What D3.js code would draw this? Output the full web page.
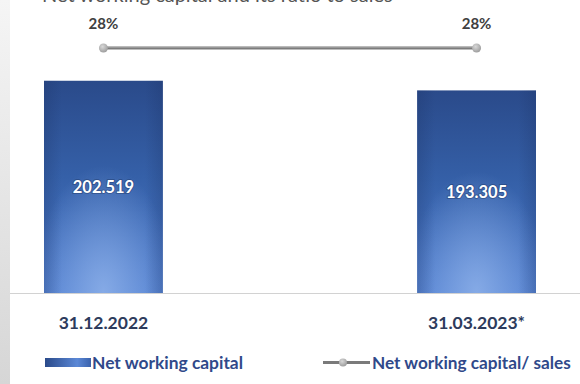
<!DOCTYPE html>
<html>
<head>
<meta charset="utf-8">
<script src="https://cdn.jsdelivr.net/npm/d3@7/dist/d3.min.js"></script>
<style>
  html, body { margin: 0; padding: 0; background: #ffffff; }
  svg { display: block; }
</style>
</head>
<body>
<svg id="chart" width="580" height="384"></svg>
<script>
// Net working capital (bars) and net working capital / sales (line)
const categories = ["31.12.2022", "31.03.2023*"];
const capitalValues = [202.519, 193.305];
const capitalLabels = ["202.519", "193.305"];
const ratioValues = [0.28, 0.28];
const ratioLabels = ["28%", "28%"];
const legendLabels = ["Net working capital", "Net working capital/ sales"];
const titleText = "Net working capital and its ratio to sales";

const W = 580, H = 384;
const FONT = "Lato, 'Open Sans', sans-serif";
const svg = d3.select("#chart");
const defs = svg.append("defs");

// left margin strip
const strip = defs.append("linearGradient").attr("id", "strip")
  .attr("x1", 0).attr("y1", 0).attr("x2", 0).attr("y2", 1);
strip.append("stop").attr("offset", "0%").attr("stop-color", "#f5f5f5");
strip.append("stop").attr("offset", "100%").attr("stop-color", "#d6d6d6");
svg.append("rect").attr("x", 0).attr("y", 0).attr("width", 10).attr("height", H)
  .attr("fill", "url(#strip)");

// bar fill: dark navy at the top fading to a lighter blue
const barV = defs.append("linearGradient").attr("id", "barV")
  .attr("x1", 0).attr("y1", 0).attr("x2", 0).attr("y2", 1);
barV.append("stop").attr("offset", "0%").attr("stop-color", "#2a4a8a");
barV.append("stop").attr("offset", "45%").attr("stop-color", "#3560a8");
barV.append("stop").attr("offset", "100%").attr("stop-color", "#4f7ed0");
const barGlow = defs.append("radialGradient").attr("id", "barGlow")
  .attr("cx", 0.5).attr("cy", 1).attr("r", 0.6).attr("fx", 0.5).attr("fy", 1);
barGlow.append("stop").attr("offset", "0%").attr("stop-color", "#8fb2ea").attr("stop-opacity", 0.85);
barGlow.append("stop").attr("offset", "100%").attr("stop-color", "#8fb2ea").attr("stop-opacity", 0);
const barEdge = defs.append("linearGradient").attr("id", "barEdge")
  .attr("x1", 0).attr("y1", 0).attr("x2", 1).attr("y2", 0);
barEdge.append("stop").attr("offset", "0%").attr("stop-color", "#1a2f60").attr("stop-opacity", 0.25);
barEdge.append("stop").attr("offset", "15%").attr("stop-color", "#1a2f60").attr("stop-opacity", 0);
barEdge.append("stop").attr("offset", "85%").attr("stop-color", "#1a2f60").attr("stop-opacity", 0);
barEdge.append("stop").attr("offset", "100%").attr("stop-color", "#1a2f60").attr("stop-opacity", 0.25);

const dotGrad = defs.append("radialGradient").attr("id", "dotGrad")
  .attr("cx", 0.4).attr("cy", 0.35).attr("r", 0.7);
dotGrad.append("stop").attr("offset", "0%").attr("stop-color", "#d8d8d8");
dotGrad.append("stop").attr("offset", "100%").attr("stop-color", "#9a9a9a");

const swatchGrad = defs.append("linearGradient").attr("id", "swatchGrad")
  .attr("x1", 0).attr("y1", 0).attr("x2", 1).attr("y2", 0);
swatchGrad.append("stop").attr("offset", "0%").attr("stop-color", "#2a4a8a");
swatchGrad.append("stop").attr("offset", "70%").attr("stop-color", "#5b88d6");
swatchGrad.append("stop").attr("offset", "100%").attr("stop-color", "#3a62ad");

// scales
const x = d3.scaleBand().domain(categories).range([44, 536]).paddingInner(0.6814).paddingOuter(0);
const y = d3.scaleLinear().domain([0, 250]).range([293, 31]);
const yRatio = d3.scaleLinear().domain([0, 0.30]).range([293, 30.5]);

// title, mostly cropped off the top edge
svg.append("text").attr("x", 42).attr("y", 1.5)
  .attr("font-family", FONT).attr("font-size", 20)
  .attr("fill", "#555").text(titleText);

// baseline
svg.append("line").attr("x1", 10).attr("x2", W).attr("y1", 293.5).attr("y2", 293.5)
  .attr("stroke", "#d2d2d2").attr("stroke-width", 1.2);

// bars
const bars = svg.append("g").selectAll("g").data(categories).join("g");
bars.each(function(c, i) {
  const g = d3.select(this);
  const bx = x(c), bw = x.bandwidth(), by = y(capitalValues[i]), bh = y(0) - y(capitalValues[i]);
  g.append("rect").attr("x", bx).attr("y", by).attr("width", bw).attr("height", bh).attr("fill", "url(#barV)");
  g.append("rect").attr("x", bx).attr("y", by).attr("width", bw).attr("height", bh).attr("fill", "url(#barGlow)");
  g.append("rect").attr("x", bx).attr("y", by).attr("width", bw).attr("height", bh).attr("fill", "url(#barEdge)");
  g.append("text")
    .attr("x", bx + bw / 2).attr("y", (by + y(0)) / 2)
    .attr("text-anchor", "middle").attr("dominant-baseline", "central")
    .attr("font-family", FONT).attr("font-weight", "bold")
    .attr("font-size", 16.5).attr("fill", "#ffffff")
    .style("paint-order", "stroke").attr("stroke", "rgba(20,40,80,0.35)").attr("stroke-width", 2)
    .text(capitalLabels[i]);
});

// ratio line
const cx = c => x(c) + x.bandwidth() / 2;
const line = d3.line().x((d, i) => cx(categories[i])).y(d => yRatio(d));
svg.append("path").datum(ratioValues).attr("d", line)
  .attr("fill", "none").attr("stroke", "#7c7c7c").attr("stroke-width", 3.2);
svg.append("path").datum(ratioValues).attr("d", line)
  .attr("fill", "none").attr("stroke", "#a4a4a4").attr("stroke-width", 0.8)
  .attr("transform", "translate(0,-0.6)");
svg.selectAll("circle.dot").data(ratioValues).join("circle").attr("class", "dot")
  .attr("cx", (d, i) => cx(categories[i])).attr("cy", d => yRatio(d)).attr("r", 4.5)
  .attr("fill", "url(#dotGrad)");
svg.selectAll("text.ratio").data(ratioValues).join("text").attr("class", "ratio")
  .attr("x", (d, i) => cx(categories[i])).attr("y", d => yRatio(d) - 19)
  .attr("text-anchor", "middle")
  .attr("font-family", FONT).attr("font-weight", "bold")
  .attr("font-size", 15).attr("fill", "#404040")
  .text((d, i) => ratioLabels[i]);

// category labels
svg.selectAll("text.cat").data(categories).join("text").attr("class", "cat")
  .attr("x", c => cx(c)).attr("y", 329)
  .attr("text-anchor", "middle")
  .attr("font-family", FONT).attr("font-weight", "bold")
  .attr("font-size", 17.5).attr("fill", "#2d3b5c")
  .text(c => c);

// legend
const legend = svg.append("g");
legend.append("rect").attr("x", 45).attr("y", 358).attr("width", 46).attr("height", 9)
  .attr("fill", "url(#swatchGrad)");
legend.append("text").attr("x", 92).attr("y", 369)
  .attr("font-family", FONT).attr("font-weight", "bold")
  .attr("font-size", 17.4).attr("fill", "#30498a").text(legendLabels[0]);
legend.append("line").attr("x1", 323).attr("x2", 370).attr("y1", 362.5).attr("y2", 362.5)
  .attr("stroke", "#7a7a7a").attr("stroke-width", 3);
legend.append("circle").attr("cx", 343).attr("cy", 362.5).attr("r", 4).attr("fill", "url(#dotGrad)");
legend.append("text").attr("x", 372).attr("y", 369)
  .attr("font-family", FONT).attr("font-weight", "bold")
  .attr("font-size", 17.2).attr("fill", "#30498a").text(legendLabels[1]);
</script>
</body>
</html>
